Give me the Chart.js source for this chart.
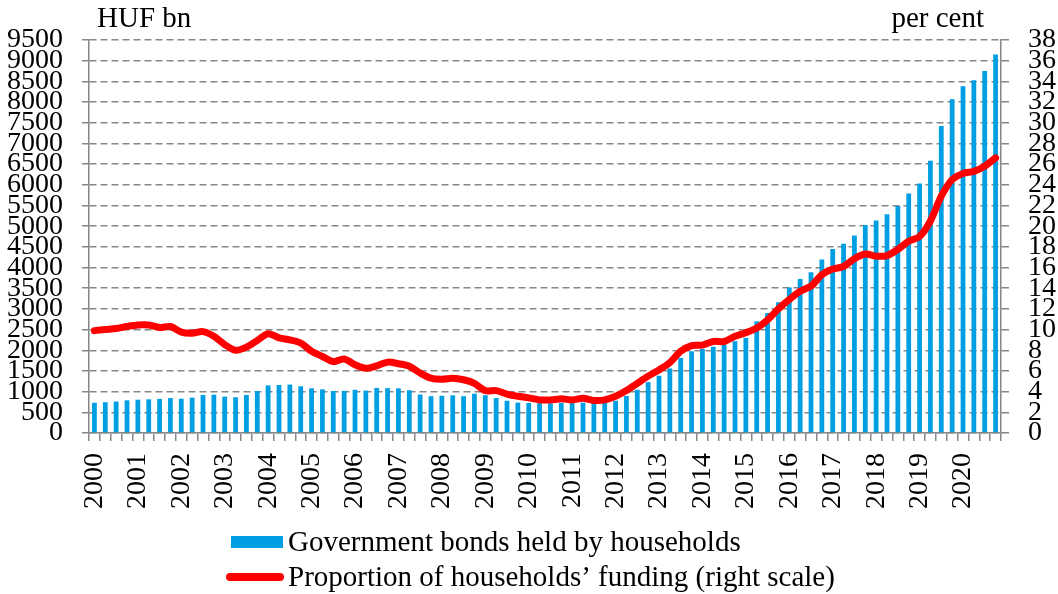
<!DOCTYPE html>
<html>
<head>
<meta charset="utf-8">
<script src="https://cdn.jsdelivr.net/npm/chart.js@4/dist/chart.umd.min.js"></script>
<style>
  html, body { margin: 0; padding: 0; background: #fff; }
  #wrap { position: relative; width: 1058px; height: 594px; }
</style>
</head>
<body>
<div id="wrap"><canvas id="chart"></canvas></div>
<script>
// Year labels shown under the first quarter of each year
var yearLabels = ['2000', '2001', '2002', '2003', '2004', '2005', '2006', '2007', '2008', '2009', '2010',
                  '2011', '2012', '2013', '2014', '2015', '2016', '2017', '2018', '2019', '2020'];
var quarterNames = ['Q1', 'Q2', 'Q3', 'Q4'];

// Government bonds held by households, HUF bn (quarterly)
var bondsHeld = [
    730, 745, 760, 790, 805, 815, 825, 845,
    830, 855, 920, 927, 880, 865, 920, 1015,
    1150, 1160, 1170, 1130, 1080, 1055, 1015, 1020,
    1045, 1025, 1090, 1085, 1080, 1035, 930, 890,
    900, 910, 890, 950, 915, 845, 780, 735,
    725, 720, 720, 730, 725, 735, 725, 730,
    780, 895, 1045, 1230, 1385, 1560, 1815, 1975,
    2030, 2085, 2135, 2220, 2300, 2700, 2900, 3160,
    3520, 3725, 3885, 4195, 4450, 4575, 4775, 5025,
    5135, 5290, 5485, 5790, 6030, 6580, 7420, 8065,
    8385, 8525, 8750, 9150
];

// Proportion of households' funding, per cent (right scale)
var fundingShare = [
    9.9, 10.0, 10.1, 10.3, 10.45, 10.45, 10.2, 10.3,
    9.75, 9.65, 9.8, 9.35, 8.55, 8.0, 8.3, 8.95,
    9.6, 9.2, 9.0, 8.7, 7.9, 7.4, 6.9, 7.15,
    6.6, 6.25, 6.5, 6.85, 6.7, 6.45, 5.8, 5.3,
    5.2, 5.3, 5.15, 4.8, 4.1, 4.1, 3.75, 3.55,
    3.4, 3.2, 3.2, 3.3, 3.2, 3.35, 3.15, 3.2,
    3.55, 4.1, 4.8, 5.5, 6.1, 6.8, 7.9, 8.45,
    8.5, 8.85, 8.85, 9.35, 9.7, 10.15, 10.95, 12.0,
    12.9, 13.7, 14.2, 15.3, 15.85, 16.1, 16.85, 17.3,
    17.1, 17.15, 17.75, 18.55, 19.0, 20.5, 22.9, 24.5,
    25.1, 25.3, 25.8, 26.6
];

var leftTicks = { min: 0, max: 9500, step: 500 };
var rightTicks = { min: 0, max: 38, step: 2 };

var barLabel = 'Government bonds held by households';
var lineLabel = 'Proportion of households\u2019 funding (right scale)';

var BLUE = '#009fe3';
var RED = '#ff0000';
var GREY = '#878787';
var FONT = "'Liberation Serif', 'Times New Roman', serif";

var categories = [];
yearLabels.forEach(function (y) {
    quarterNames.forEach(function (q) { categories.push(y + ' ' + q); });
});

Chart.defaults.font.family = FONT;
Chart.defaults.color = '#000';

// unit captions above the axes and the two-line key under the chart
var extras = {
    id: 'extras',
    afterDraw: function (chart) {
        var ctx = chart.ctx;
        var area = chart.chartArea;
        ctx.save();
        ctx.fillStyle = '#000';
        ctx.font = '29px ' + FONT;
        ctx.textBaseline = 'alphabetic';
        ctx.textAlign = 'left';
        ctx.fillText('HUF bn', 97, 27);
        ctx.textAlign = 'right';
        ctx.fillText('per cent', area.right - 17, 27);

        ctx.textAlign = 'left';
        ctx.textBaseline = 'middle';
        ctx.fillStyle = BLUE;
        ctx.fillRect(231, 536, 52, 12);
        ctx.fillStyle = '#000';
        ctx.fillText(barLabel, 288, 543);

        ctx.strokeStyle = RED;
        ctx.lineWidth = 8;
        ctx.lineCap = 'round';
        ctx.beginPath();
        ctx.moveTo(230, 577);
        ctx.lineTo(280, 577);
        ctx.stroke();
        ctx.fillText(lineLabel, 288, 578);
        ctx.restore();
    }
};

new Chart(document.getElementById('chart'), {
    type: 'bar',
    data: {
        labels: categories,
        datasets: [
            {
                type: 'line',
                label: lineLabel,
                data: fundingShare,
                yAxisID: 'yRight',
                borderColor: RED,
                borderWidth: 7,
                tension: 0.3,
                pointRadius: 0,
                borderCapStyle: 'round',
                borderJoinStyle: 'round',
                fill: false,
                order: 0
            },
            {
                type: 'bar',
                label: barLabel,
                data: bondsHeld,
                yAxisID: 'yLeft',
                backgroundColor: BLUE,
                barPercentage: 0.44,
                categoryPercentage: 1.0,
                order: 1
            }
        ]
    },
    options: {
        responsive: true,
        maintainAspectRatio: false,
        animation: false,
        layout: { padding: { top: 40, left: 0, right: 0, bottom: 81 } },
        plugins: {
            legend: { display: false },
            tooltip: { enabled: false }
        },
        scales: {
            x: {
                offset: true,
                grid: { offset: true, drawOnChartArea: false, drawTicks: true, tickLength: 8, color: GREY, lineWidth: 1.5 },
                border: { color: GREY, width: 1.5 },
                ticks: {
                    autoSkip: false,
                    minRotation: 90,
                    maxRotation: 90,
                    padding: 12,
                    font: { size: 28 },
                    callback: function (val, idx) {
                        return idx % 4 === 0 ? yearLabels[idx / 4] : '';
                    }
                },
                afterFit: function (scale) { scale.height = 80; }
            },
            yLeft: {
                position: 'left',
                min: leftTicks.min,
                max: leftTicks.max,
                grid: { color: GREY, lineWidth: 1.5, drawTicks: true, tickLength: 7, tickColor: GREY },
                border: { color: GREY, width: 1.5, dash: [7, 4] },
                ticks: {
                    stepSize: leftTicks.step,
                    autoSkip: false,
                    padding: 19,
                    font: { size: 28 },
                    callback: function (v) { return String(v); }
                },
                afterFit: function (scale) { scale.width = 89; }
            },
            yRight: {
                position: 'right',
                min: rightTicks.min,
                max: rightTicks.max,
                grid: { drawOnChartArea: false, drawTicks: true, tickLength: 8, color: GREY, lineWidth: 1.5 },
                border: { color: GREY, width: 1.5 },
                ticks: {
                    stepSize: rightTicks.step,
                    autoSkip: false,
                    padding: 19,
                    font: { size: 28 },
                    callback: function (v) { return String(v); }
                },
                afterFit: function (scale) { scale.width = 57; }
            }
        }
    },
    plugins: [extras]
});
</script>
</body>
</html>
